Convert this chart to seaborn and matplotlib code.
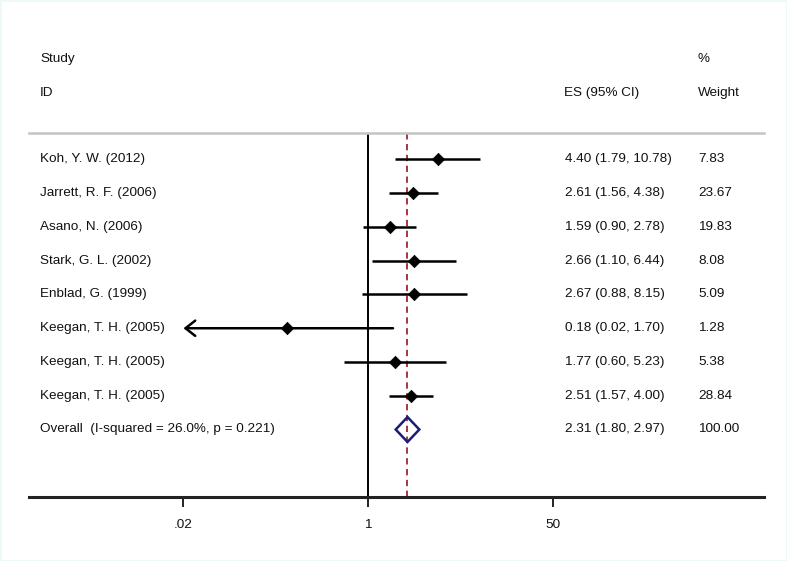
import numpy as np
import pandas as pd
import matplotlib
matplotlib.use("Agg")
import matplotlib.pyplot as plt
from matplotlib.patches import Polygon
import seaborn as sns

studies = ["Koh, Y. W. (2012)", "Jarrett, R. F. (2006)", "Asano, N. (2006)",
           "Stark, G. L. (2002)", "Enblad, G. (1999)", "Keegan, T. H. (2005)",
           "Keegan, T. H. (2005)", "Keegan, T. H. (2005)"]
es = [4.40, 2.61, 1.59, 2.66, 2.67, 0.18, 1.77, 2.51]
lo = [1.79, 1.56, 0.90, 1.10, 0.88, 0.02, 0.60, 1.57]
hi = [10.78, 4.38, 2.78, 6.44, 8.15, 1.70, 5.23, 4.00]
weights = ["7.83", "23.67", "19.83", "8.08", "5.09", "1.28", "5.38", "28.84"]
overall_label = "Overall  (I-squared = 26.0%, p = 0.221)"
overall_es, overall_lo, overall_hi = 2.31, 1.80, 2.97
overall_weight = "100.00"
arrow_rows = [5]  # CI truncated at axis minimum tick
tick_vals = [0.02, 1, 50]
tick_labels = [".02", "1", "50"]

sns.set_style("white")
plt.rcParams["font.family"] = ["Liberation Sans", "DejaVu Sans"]

df = pd.DataFrame({"study": studies, "es": es, "lo": lo, "hi": hi,
                   "row": np.arange(len(studies))})

fig = plt.figure(figsize=(7.87, 5.61), dpi=100)
fig.patch.set_facecolor("white")
ax = fig.add_axes([29 / 787, 1 - 497 / 561, (764 - 29) / 787, (497 - 133) / 561])
ax.set_xscale("log")
ax.set_xlim(10 ** -3.1215, 10 ** 3.6464)
ax.set_ylim(10.0, -0.785)

fs = 9.7
tc = "#111111"
# CI lines
for r, l, h in zip(df["row"], df["lo"], df["hi"]):
    if r in arrow_rows:
        ax.annotate("", xy=(l, r), xytext=(h, r),
                    arrowprops=dict(arrowstyle="->,head_length=0.7,head_width=0.55",
                                    color="black", lw=1.8, shrinkA=0, shrinkB=0),
                    annotation_clip=False)
    else:
        ax.plot([l, h], [r, r], color="black", lw=1.8, solid_capstyle="butt")

sns.scatterplot(data=df, x="es", y="row", marker="D", s=40, color="black",
                edgecolor="black", linewidth=0.5, ax=ax, zorder=5, legend=False)

# overall diamond
orow = len(studies)
h = 0.37
diamond = Polygon([(overall_lo, orow), (overall_es, orow - h), (overall_hi, orow),
                   (overall_es, orow + h)], closed=True, facecolor="none",
                  edgecolor="#1c1c78", lw=1.8, zorder=6)
ax.add_patch(diamond)

# reference lines
ax.axvline(1, color="black", lw=1.4, zorder=1)
ax.axvline(overall_es, color="#a0282c", lw=1.3, ls=(0, (3.5, 2.5)), zorder=1)

# spines/ticks
sns.despine(ax=ax, left=True, right=True, top=False, bottom=False)
ax.spines["top"].set_color("#c4c4c4")
ax.spines["top"].set_linewidth(1.8)
ax.spines["bottom"].set_color("#222222")
ax.spines["bottom"].set_linewidth(2.2)
ax.set_yticks([])
ax.set_xticks(tick_vals)
ax.set_xticklabels(tick_labels, fontsize=fs, color=tc)
ax.xaxis.set_minor_locator(matplotlib.ticker.NullLocator())
ax.tick_params(axis="x", direction="out", length=7, width=1.4, color="#222222",
               pad=9, bottom=True)
ax.set_xlabel("")
ax.set_ylabel("")

# text columns (positions in figure pixels)
def fx(px):
    return px / 787

trans = matplotlib.transforms.blended_transform_factory(fig.transFigure, ax.transData)
kw = dict(transform=trans, fontsize=fs, va="center", ha="left", color=tc)
for r, s in enumerate(studies):
    ax.text(fx(40), r, s, **kw)
    ax.text(fx(565), r, f"{es[r]:.2f} ({lo[r]:.2f}, {hi[r]:.2f})", **kw)
    ax.text(fx(698), r, weights[r], **kw)
ax.text(fx(40), orow, overall_label, **kw)
ax.text(fx(565), orow, f"{overall_es:.2f} ({overall_lo:.2f}, {overall_hi:.2f})", **kw)
ax.text(fx(698), orow, overall_weight, **kw)

# headers
ax.text(fx(40), -2.98, "Study", **kw)
ax.text(fx(40), -1.97, "ID", **kw)
ax.text(fx(564), -1.97, "ES (95% CI)", **kw)
ax.text(fx(698), -2.98, "%", **kw)
ax.text(fx(698), -1.97, "Weight", **kw)

fig.patch.set_edgecolor("#eef8f8")
fig.patch.set_linewidth(2)

fig.savefig("out.png", dpi=100, facecolor=fig.get_facecolor(),
            edgecolor=fig.get_edgecolor())
